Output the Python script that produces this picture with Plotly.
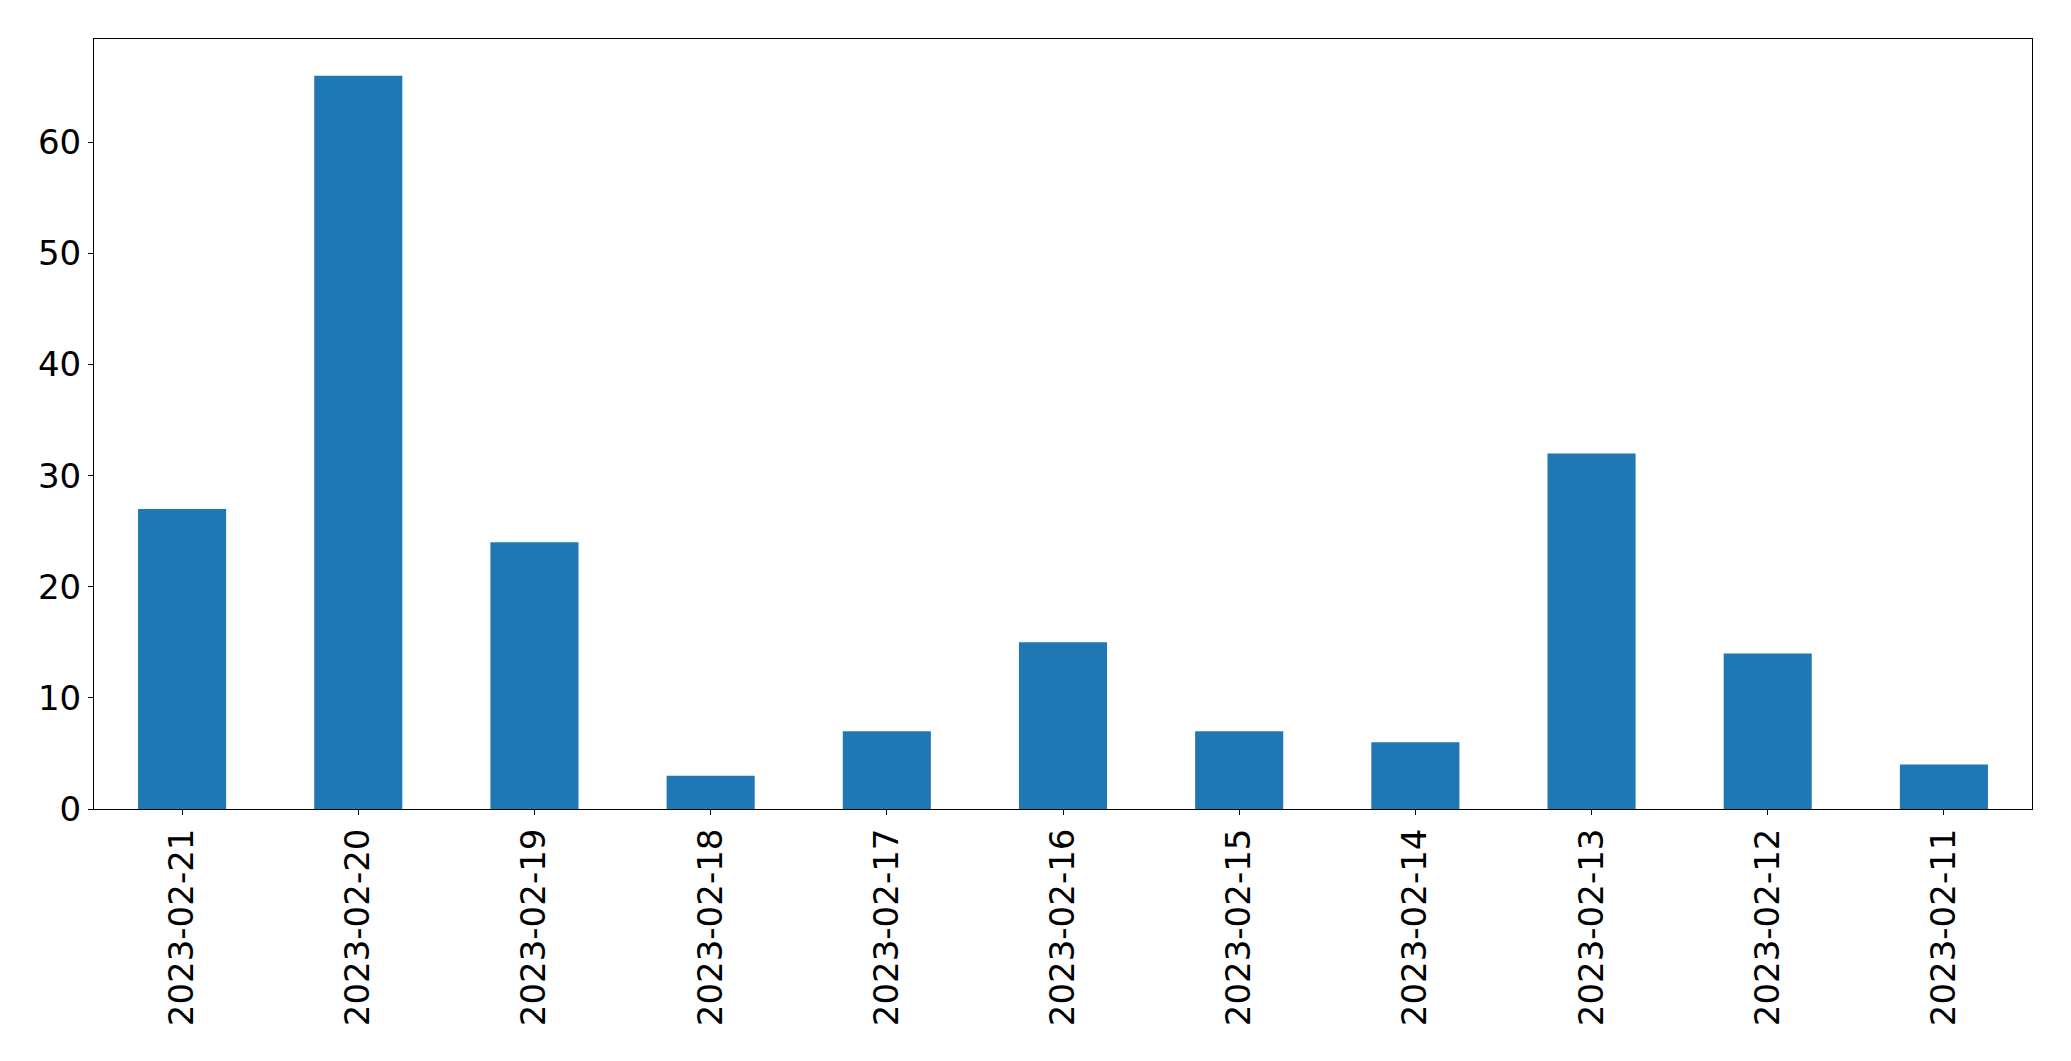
import plotly.graph_objects as go

dates = ["2023-02-21", "2023-02-20", "2023-02-19", "2023-02-18", "2023-02-17",
         "2023-02-16", "2023-02-15", "2023-02-14", "2023-02-13", "2023-02-12",
         "2023-02-11"]
counts = [27, 66, 24, 3, 7, 15, 7, 6, 32, 14, 4]
y_ticks = [0, 10, 20, 30, 40, 50, 60]

fig = go.Figure(go.Bar(x=dates, y=counts, width=0.5, marker=dict(color="#1f77b4", line=dict(width=0))))

font = dict(family="DejaVu Sans", size=34, color="black")
fig.update_layout(
    width=2055, height=1045,
    margin=dict(l=86, r=31, t=31, b=244, pad=0),
    plot_bgcolor="white", paper_bgcolor="white",
    showlegend=False,
    font=font,
)
fig.update_xaxes(type="category", range=[-0.5, len(dates) - 0.5], tickangle=-90,
                 showline=True, linecolor="black", linewidth=1, mirror=True,
                 ticks="outside", ticklen=5, tickcolor="black", tickwidth=1,
                 showgrid=False, zeroline=False, tickfont=font, automargin=False)
fig.update_yaxes(range=[0, 69.3], tickvals=y_ticks,
                 showline=True, linecolor="black", linewidth=1, mirror=True,
                 ticks="outside", ticklen=5, tickcolor="black", tickwidth=1,
                 showgrid=False, zeroline=False, tickfont=font, automargin=False)

fig.write_html("out.html")
